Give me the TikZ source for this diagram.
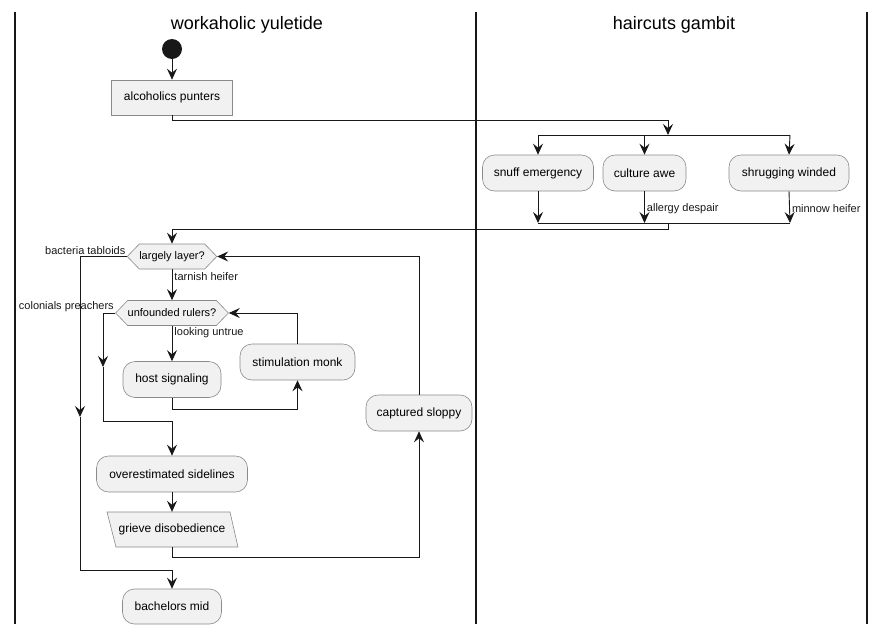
\documentclass[tikz,border=0pt]{standalone}
\usepackage{fontspec}
\setmainfont{Liberation Sans}
\usetikzlibrary{arrows.meta,shapes.symbols}
\definecolor{boxfill}{HTML}{F1F1F1}
\definecolor{boxline}{HTML}{8A8A8A}
\definecolor{ink}{HTML}{181818}
\begin{document}
\begin{tikzpicture}[x=1pt, y=-1pt,
    lane/.style={ink, line width=1.4pt},
    wire/.style={ink, line width=0.9pt},
    flow/.style={wire, -{Stealth[length=11pt, width=10pt, inset=4pt]}},
    outline/.style={draw=boxline, fill=boxfill, line width=0.6pt},
    act/.style={outline, rounded corners=12pt,
        inner sep=0pt, minimum height=36pt, font=\fontsize{12}{14}\selectfont},
    plainact/.style={act, rounded corners=0pt, minimum height=35pt},
    decide/.style={signal, signal to=west and east, signal pointer angle=92,
        outline, inner sep=0pt, minimum height=25pt, font=\fontsize{11}{13}\selectfont},
    lbl/.style={font=\fontsize{11}{13}\selectfont, inner sep=2pt},
    lanetitle/.style={font=\fontsize{18}{21}\selectfont}]
    \useasboundingbox (0,0) rectangle (885,635);

    % swimlanes
    \draw[lane] (15,12) -- (15,624);
    \draw[lane] (476,12) -- (476,624);
    \draw[lane] (867,12) -- (867,624);
    \node[lanetitle] (t1) at (247,25) {workaholic yuletide};
    \node[lanetitle] (t2) at (674,25) {haircuts gambit};

    % start
    \node[circle, fill=ink, inner sep=0pt, minimum size=20pt] (s0) at (172,49) {};
    \node[plainact, minimum width=121pt] (a1) at (172,97.5) {alcoholics punters};
    \draw[flow] (s0) -- (a1);

    % fork in the right lane
    \coordinate (fk) at (668,135);
    \coordinate (fkl) at (538,135);
    \coordinate (fkr) at (790,135);
    \node[act, minimum width=111pt] (b1) at (538,173) {snuff emergency};
    \node[act, minimum width=83pt] (b2) at (644.5,173) {culture awe};
    \node[act, minimum width=120pt] (b3) at (789,173) {shrugging winded};
    \draw[flow] (a1.south) -- ++(0,5) -| (fk);
    \draw[wire] (fkl) -- (fkr);
    \draw[flow] (fkl) -- (b1.north);
    \draw[flow] (fkl -| b2.north) -- (b2.north);
    \draw[flow] (fkr) -- (b3.north);

    % join
    \coordinate (jn) at (668,223);
    \coordinate (jnl) at (538,223);
    \coordinate (jnr) at (790,223);
    \draw[flow] (b1.south) -- (jnl);
    \draw[flow] (b2.south) -- node[lbl, anchor=west, pos=0.55] {allergy despair} (b2.south |- jnl);
    \draw[flow] (b3.south) -- node[lbl, anchor=west, pos=0.55] {minnow heifer} (jnr);
    \draw[wire] (jnl) -- (jnr);

    % outer loop
    \node[decide] (d1) at (172,256.5) {largely layer?};
    \draw[flow] (jn) -- ++(0,6) -| (d1.north);
    \node[decide] (d2) at (172,313) {unfounded rulers?};
    \draw[flow] (d1.south) -- node[lbl, anchor=west, pos=0.22] {tarnish heifer} (d2.north);

    % inner loop
    \node[act, minimum width=98pt] (c1) at (172,379.5) {host signaling};
    \node[act, minimum width=115pt] (c2) at (297.5,362) {stimulation monk};
    \draw[flow] (d2.south) -- node[lbl, anchor=west, pos=0.2] {looking untrue} (c1.north);
    \draw[flow] (c1.south) -- ++(0,12) -| (c2.south);
    \draw[flow] (c2.north) |- (d2.east);

    % leaving the inner loop
    \coordinate (lp2) at (103,367);
    \coordinate (mg) at (172,421.5);
    \node[act, minimum width=151pt] (c4) at (172,474) {overestimated sidelines};
    \draw[flow] (d2.west) node[lbl, anchor=south east, inner sep=1pt] {colonials preachers} -| (lp2);
    \draw[flow] (lp2) |- (mg) -- (c4.north);

    % slanted box
    \draw[outline] (107,512) -- (230,512) -- (238,547) -- (116,547) -- cycle;
    \node[inner sep=0pt, minimum width=122pt, minimum height=35pt,
        font=\fontsize{12}{14}\selectfont] (p1) at (172,529.5) {grieve disobedience};
    \draw[flow] (c4) -- (p1);

    % back to the first question
    \node[act, minimum width=106pt] (c3) at (419,413) {captured sloppy};
    \draw[flow] (p1.south) -- ++(0,10) -| (c3.south);
    \draw[flow] (c3.north) |- (d1.east);

    % leaving the outer loop
    \coordinate (lp1) at (80,417);
    \coordinate (mg2) at (172,570);
    \node[act, minimum width=99pt, minimum height=35pt] (e1) at (172,606.5) {bachelors mid};
    \draw[flow] (d1.west) node[lbl, anchor=south east, inner sep=1pt] {bacteria tabloids} -| (lp1);
    \draw[flow] (lp1) |- (mg2) -- (e1.north);
\end{tikzpicture}
\end{document}
